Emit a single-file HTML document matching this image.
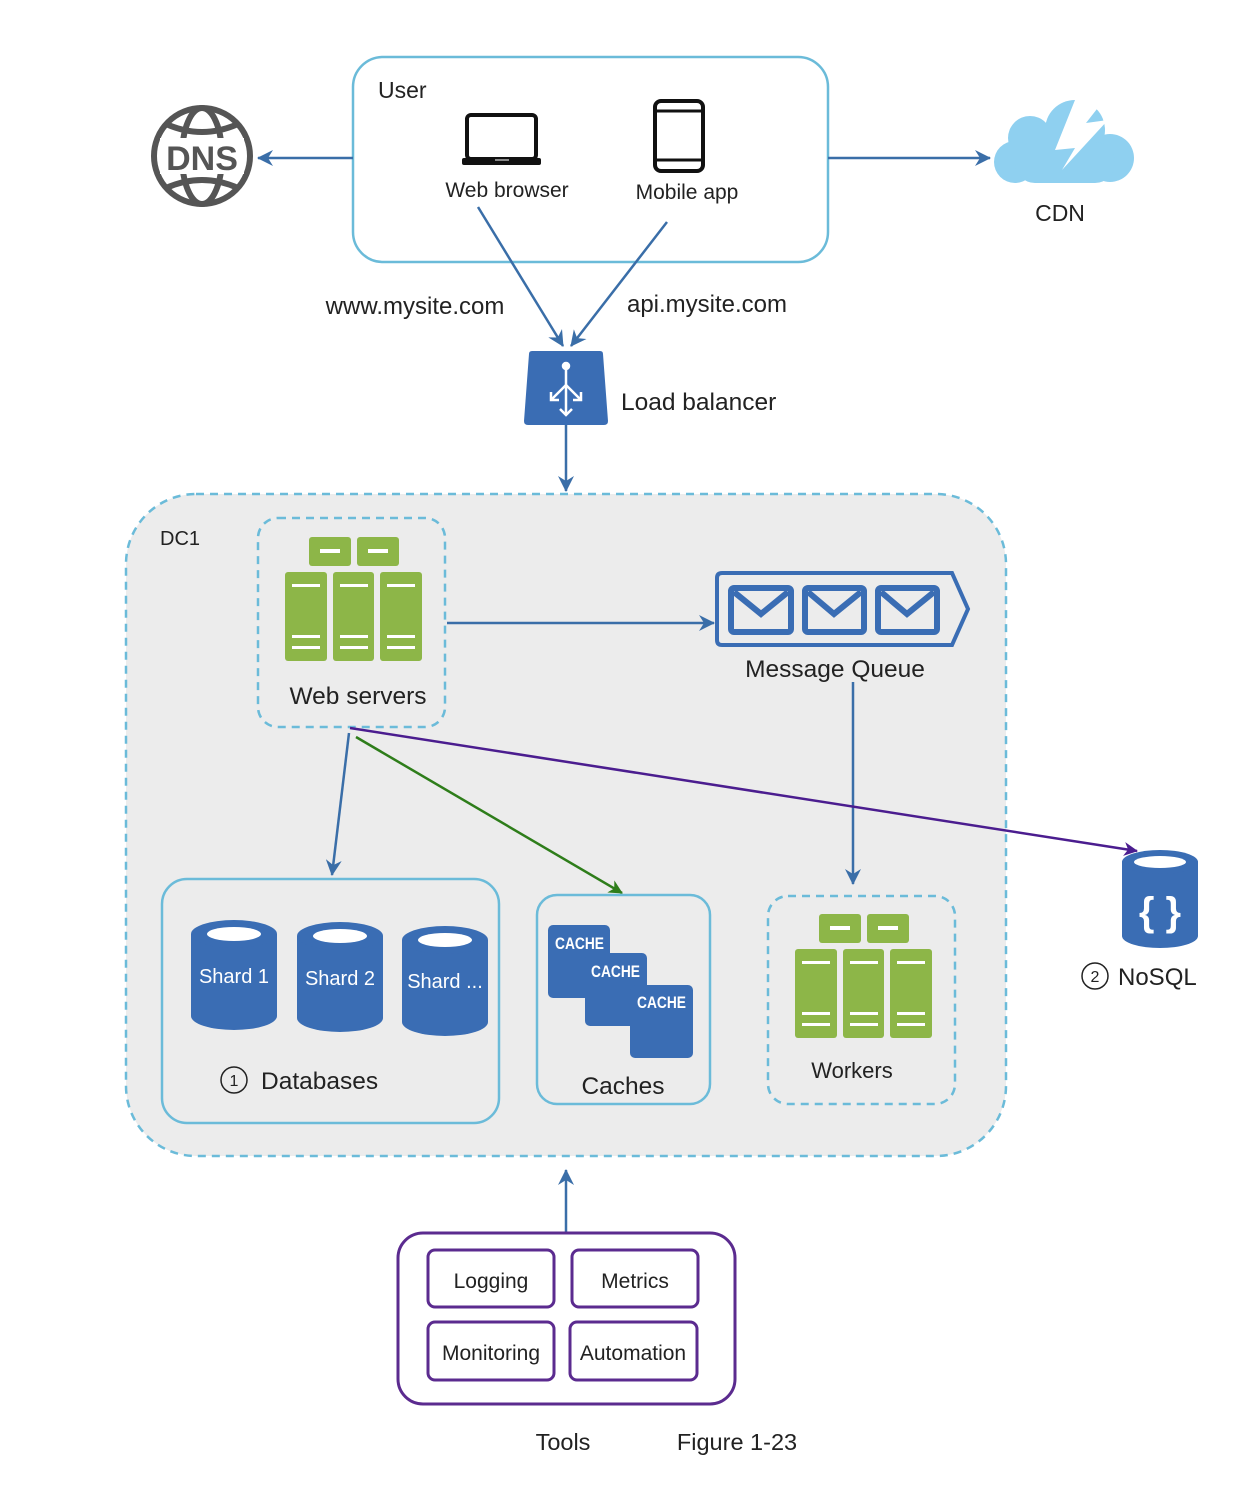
<!DOCTYPE html>
<html><head><meta charset="utf-8"><style>
html,body{margin:0;padding:0;background:#fff}
svg{display:block}
text{font-family:"Liberation Sans",sans-serif;fill:#222}
</style></head><body>
<svg width="1233" height="1496" viewBox="0 0 1233 1496" xmlns="http://www.w3.org/2000/svg">
<defs>
<marker id="ab" markerWidth="10" markerHeight="10" refX="9" refY="5" orient="auto" markerUnits="userSpaceOnUse"><path d="M0,0 L10,5 L0,10 L3,5Z" fill="#3a6ea8"/></marker>
<marker id="ag" markerWidth="14" markerHeight="14" refX="13" refY="7" orient="auto" markerUnits="userSpaceOnUse"><path d="M0,0 L14,7 L0,14 L4,7Z" fill="#2e7d1a"/></marker>
<marker id="ap" markerWidth="14" markerHeight="14" refX="13" refY="7" orient="auto" markerUnits="userSpaceOnUse"><path d="M0,0 L14,7 L0,14 L4,7Z" fill="#4b1d8f"/></marker>
<marker id="abl" markerWidth="16" markerHeight="16" refX="15" refY="8" orient="auto" markerUnits="userSpaceOnUse"><path d="M0,0 L16,8 L0,16 L5,8Z" fill="#3a6ea8"/></marker>
<g id="srv">
<rect x="24" y="0" width="42" height="29" rx="3" fill="#8db648"/>
<rect x="72" y="0" width="42" height="29" rx="3" fill="#8db648"/>
<rect x="35" y="12" width="20" height="4" fill="#fff"/><rect x="83" y="12" width="20" height="4" fill="#fff"/>
<rect x="0" y="35" width="42" height="89" rx="3" fill="#8db648"/>
<rect x="48" y="35" width="41" height="89" rx="3" fill="#8db648"/>
<rect x="95" y="35" width="42" height="89" rx="3" fill="#8db648"/>
<g fill="#fff">
<rect x="7" y="47" width="28" height="3"/><rect x="7" y="98" width="28" height="3"/><rect x="7" y="109" width="28" height="3"/>
<rect x="55" y="47" width="28" height="3"/><rect x="55" y="98" width="28" height="3"/><rect x="55" y="109" width="28" height="3"/>
<rect x="102" y="47" width="28" height="3"/><rect x="102" y="98" width="28" height="3"/><rect x="102" y="109" width="28" height="3"/>
</g>
</g>
<g id="cyl">
<path d="M0,14 L0,96 A43,14 0 0 0 86,96 L86,14Z" fill="#3a6db4"/>
<ellipse cx="43" cy="14" rx="43" ry="14" fill="#3a6db4"/>
<ellipse cx="43" cy="14" rx="27" ry="7" fill="#fff"/>
</g>
</defs>

<rect x="353" y="57" width="475" height="205" rx="30" fill="none" stroke="#6bbbd9" stroke-width="2.5"/>
<text x="378" y="98" font-size="23">User</text>
<rect x="467" y="115" width="69" height="44" rx="4" fill="none" stroke="#111" stroke-width="4"/>
<rect x="462" y="158" width="79" height="7" rx="2" fill="#111"/>
<rect x="495" y="159" width="14" height="2" fill="#888"/>
<text x="507" y="197" font-size="21" text-anchor="middle">Web browser</text>
<rect x="655" y="101" width="48" height="70" rx="6" fill="none" stroke="#111" stroke-width="4"/>
<line x1="656" y1="111" x2="702" y2="111" stroke="#111" stroke-width="3"/>
<line x1="656" y1="160" x2="702" y2="160" stroke="#111" stroke-width="3"/>
<text x="687" y="199" font-size="21" text-anchor="middle">Mobile app</text>

<g stroke="#555" fill="none" stroke-width="6">
<circle cx="202" cy="156" r="48"/>
<ellipse cx="202" cy="156" rx="20" ry="48"/>
<path d="M166,124 Q202,140 238,124"/><path d="M166,188 Q202,172 238,188"/>
</g>
<rect x="160" y="138" width="84" height="36" fill="#fff"/>
<text x="202" y="170" font-size="34" font-weight="bold" text-anchor="middle" style="fill:#555">DNS</text>
<line x1="353" y1="158" x2="258" y2="158" stroke="#3a6ea8" stroke-width="2.5" marker-end="url(#abl)"/>
<line x1="828" y1="158" x2="990" y2="158" stroke="#3a6ea8" stroke-width="2.5" marker-end="url(#abl)"/>

<g fill="#8fd0f0">
<circle cx="1030" cy="138" r="22"/><circle cx="1075" cy="130" r="30"/><circle cx="1110" cy="158" r="24"/><circle cx="1015" cy="162" r="21"/>
<rect x="1015" y="142" width="100" height="41" rx="20"/>
</g>
<path d="M1075,100 L1055,150 L1075,148 L1062,170 L1108,120 L1086,123 L1104,100Z" fill="#fff"/>
<text x="1060" y="221" font-size="23" text-anchor="middle">CDN</text>

<line x1="478" y1="207" x2="563" y2="346" stroke="#3a6ea8" stroke-width="2.5" marker-end="url(#abl)"/>
<line x1="667" y1="222" x2="571" y2="346" stroke="#3a6ea8" stroke-width="2.5" marker-end="url(#abl)"/>
<text x="415" y="314" font-size="24" text-anchor="middle">www.mysite.com</text>
<text x="707" y="312" font-size="24" text-anchor="middle">api.mysite.com</text>

<path d="M532,351 L600,351 Q603,351 603,354 L608,421 Q608,425 604,425 L528,425 Q524,425 524,421 L529,354 Q529,351 532,351Z" fill="#3a6db4"/>
<g stroke="#fff" stroke-width="2.5" fill="none">
<circle cx="566" cy="366" r="3" fill="#fff"/>
<line x1="566" y1="369" x2="566" y2="415"/>
<line x1="566" y1="385" x2="551" y2="400"/><line x1="566" y1="385" x2="581" y2="400"/>
<path d="M551,392 L551,400 L559,400"/><path d="M581,392 L581,400 L573,400"/>
<path d="M560,409 L566,415 L572,409"/>
</g>
<text x="621" y="410" font-size="24.5">Load balancer</text>
<line x1="566" y1="425" x2="566" y2="491" stroke="#3a6ea8" stroke-width="2.5" marker-end="url(#abl)"/>

<rect x="126" y="494" width="880" height="662" rx="70" fill="#ececec" stroke="#6bbbd9" stroke-width="2.5" stroke-dasharray="8,6"/>
<text x="160" y="545" font-size="20">DC1</text>

<rect x="258" y="518" width="187" height="209" rx="20" fill="none" stroke="#6bbbd9" stroke-width="2.5" stroke-dasharray="8,6"/>
<use href="#srv" x="285" y="537"/>
<text x="358" y="704" font-size="24.5" text-anchor="middle">Web servers</text>
<line x1="447" y1="623" x2="714" y2="623" stroke="#3a6ea8" stroke-width="2.5" marker-end="url(#abl)"/>

<path d="M722,573 L952,573 L968,609 L952,645 L722,645 Q717,645 717,640 L717,578 Q717,573 722,573Z" fill="none" stroke="#3a6db4" stroke-width="4"/>
<g fill="none" stroke="#3a6db4" stroke-width="6">
<rect x="731" y="588" width="60" height="44" rx="3"/><path d="M734,592 L761,614 L788,592"/>
<rect x="805" y="588" width="59" height="44" rx="3"/><path d="M808,592 L834,614 L861,592"/>
<rect x="878" y="588" width="59" height="44" rx="3"/><path d="M881,592 L907,614 L934,592"/>
</g>
<text x="835" y="677" font-size="24.5" text-anchor="middle">Message Queue</text>
<line x1="853" y1="682" x2="853" y2="884" stroke="#3a6ea8" stroke-width="2.5" marker-end="url(#abl)"/>

<rect x="768" y="896" width="187" height="208" rx="20" fill="none" stroke="#6bbbd9" stroke-width="2.5" stroke-dasharray="8,6"/>
<use href="#srv" x="795" y="914"/>
<text x="852" y="1078" font-size="22" text-anchor="middle">Workers</text>

<line x1="349" y1="733" x2="332" y2="875" stroke="#3a6ea8" stroke-width="2.5" marker-end="url(#abl)"/>
<line x1="356" y1="737" x2="622" y2="893" stroke="#2e7d1a" stroke-width="2.5" marker-end="url(#ag)"/>
<line x1="350" y1="728" x2="1137" y2="851" stroke="#4b1d8f" stroke-width="2.5" marker-end="url(#ap)"/>

<rect x="162" y="879" width="337" height="244" rx="25" fill="none" stroke="#6bbbd9" stroke-width="2.5"/>
<use href="#cyl" x="191" y="920"/>
<use href="#cyl" x="297" y="922"/>
<use href="#cyl" x="402" y="926"/>
<g font-size="20">
<text x="234" y="983" text-anchor="middle" style="fill:#fff">Shard 1</text>
<text x="340" y="985" text-anchor="middle" style="fill:#fff">Shard 2</text>
<text x="445" y="988" text-anchor="middle" style="fill:#fff">Shard ...</text>
</g>
<circle cx="234" cy="1080" r="13" fill="none" stroke="#222" stroke-width="1.5"/>
<text x="234" y="1086" font-size="16" text-anchor="middle">1</text>
<text x="261" y="1089" font-size="24.5">Databases</text>

<rect x="537" y="895" width="173" height="209" rx="20" fill="none" stroke="#6bbbd9" stroke-width="2.5"/>
<g fill="#3a6db4">
<rect x="548" y="925" width="62" height="73" rx="5"/>
<rect x="585" y="953" width="62" height="73" rx="5"/>
<rect x="630" y="985" width="63" height="73" rx="5"/>
</g>
<g font-size="17" font-weight="bold">
<text x="555" y="949" style="fill:#fff" textLength="49" lengthAdjust="spacingAndGlyphs">CACHE</text>
<text x="591" y="977" style="fill:#fff" textLength="49" lengthAdjust="spacingAndGlyphs">CACHE</text>
<text x="637" y="1008" style="fill:#fff" textLength="49" lengthAdjust="spacingAndGlyphs">CACHE</text>
</g>
<text x="623" y="1094" font-size="24.5" text-anchor="middle">Caches</text>

<path d="M1122,862 L1122,936 A38,12 0 0 0 1198,936 L1198,862Z" fill="#3a6db4"/>
<ellipse cx="1160" cy="862" rx="38" ry="12" fill="#3a6db4"/>
<ellipse cx="1160" cy="862" rx="26" ry="6" fill="#fff"/>
<text x="1160" y="925" font-size="40" font-weight="bold" text-anchor="middle" style="fill:#fff">{ }</text>
<circle cx="1095" cy="976" r="13" fill="none" stroke="#222" stroke-width="1.5"/>
<text x="1095" y="982" font-size="16" text-anchor="middle">2</text>
<text x="1118" y="985" font-size="24">NoSQL</text>

<line x1="566" y1="1232" x2="566" y2="1170" stroke="#3a6ea8" stroke-width="2.5" marker-end="url(#abl)"/>
<rect x="398" y="1233" width="337" height="171" rx="25" fill="none" stroke="#5b2b8f" stroke-width="3"/>
<g fill="none" stroke="#5b2b8f" stroke-width="3">
<rect x="428" y="1250" width="126" height="57" rx="7"/>
<rect x="572" y="1250" width="126" height="57" rx="7"/>
<rect x="428" y="1322" width="126" height="58" rx="7"/>
<rect x="570" y="1322" width="127" height="58" rx="7"/>
</g>
<g font-size="21" text-anchor="middle">
<text x="491" y="1288">Logging</text>
<text x="635" y="1288">Metrics</text>
<text x="491" y="1360">Monitoring</text>
<text x="633" y="1360">Automation</text>
</g>
<text x="563" y="1450" font-size="23.5" text-anchor="middle">Tools</text>
<text x="737" y="1450" font-size="23.5" text-anchor="middle">Figure 1-23</text>
</svg>
</body></html>
